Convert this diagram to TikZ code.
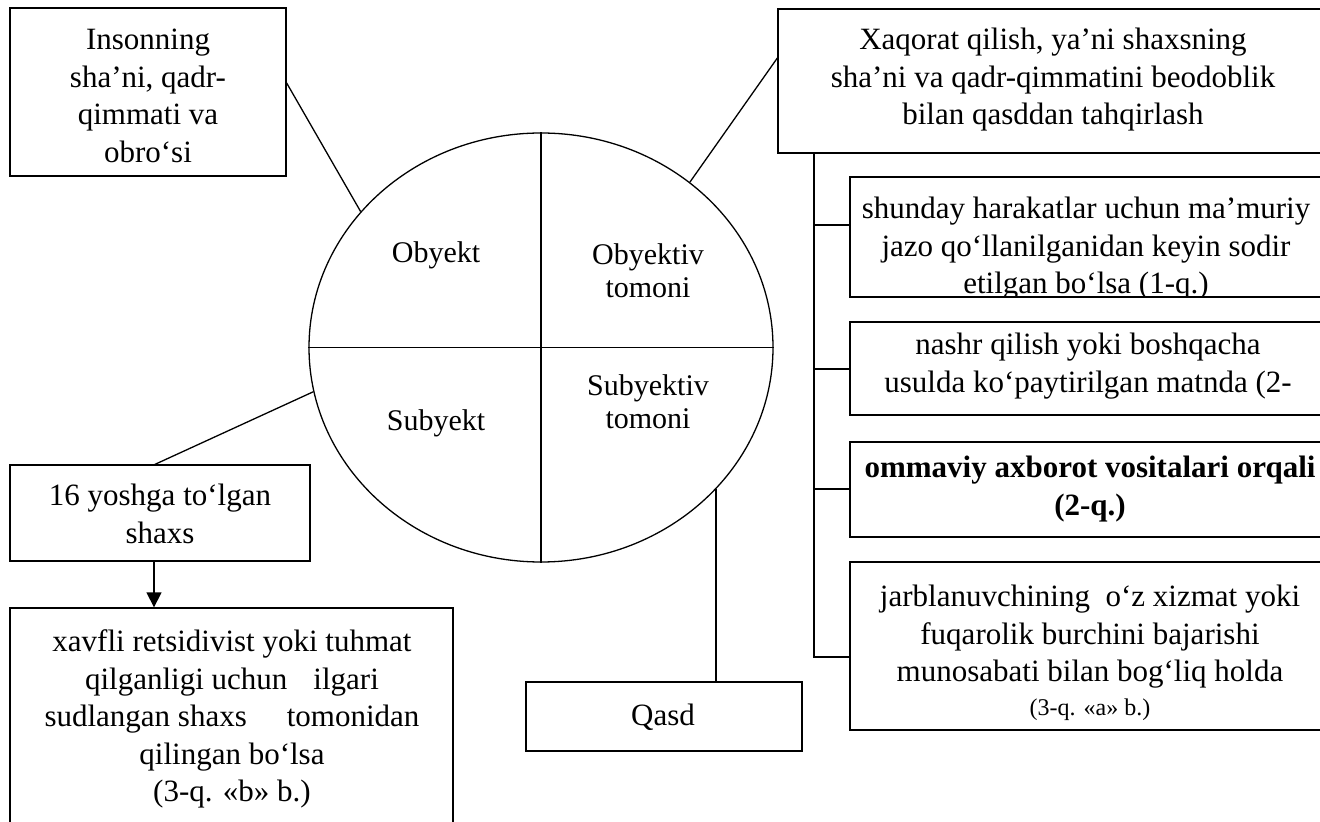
\documentclass[tikz,border=0pt]{standalone}
\usepackage{fontspec}
\setmainfont{Liberation Serif}
\usetikzlibrary{shapes.geometric,arrows.meta,calc}
\begin{document}
\begin{tikzpicture}[x=0.5pt,y=-0.5pt,
  box/.style={draw,line width=0.65pt,inner sep=0pt},
  txt/.style={align=center,inner sep=0pt,font=\fontsize{15.5}{18.75}\selectfont},
  lab/.style={align=center,inner sep=0pt,font=\fontsize{15}{16.5}\selectfont},
  conn/.style={line width=0.65pt},
  arr/.style={line width=0.65pt,-{Triangle[length=7.5pt,width=7.5pt]}},
]
\clip (0,0) rectangle (1320,822);
\fill[white] (0,0) rectangle (1320,822);

% top-left box
\node[box,minimum width=138pt,minimum height=84pt] (tl) at (148,92) {};
\node[txt] (tlt) at (148,96) {Insonning\\sha’ni, qadr-\\qimmati va\\obro‘si};

% top-right box
\node[box,minimum width=280pt,minimum height=72pt] (tr) at (1058,81) {};
\node[txt] (trt) at (1053,80) {Xaqorat qilish, ya’ni shaxsning\\sha’ni va qadr-qimmatini beodoblik\\bilan qasddan tahqirlash};

% right boxes
\node[box,minimum width=245pt,minimum height=60pt] (b1) at (1095,237) {};
\begin{scope}
\clip (b1.south west) rectangle (b1.north east);
\node[txt] (b1t) at (1086,249) {shunday harakatlar uchun ma’muriy\\jazo qo‘llanilganidan keyin sodir\\etilgan bo‘lsa (1-q.)};
\end{scope}

\node[box,minimum width=245pt,minimum height=46.5pt] (b2) at (1095,368.5) {};
\node[txt] (b2t) at (1088,366) {nashr qilish yoki boshqacha\\usulda ko‘paytirilgan matnda (2-};

\node[box,minimum width=245pt,minimum height=47.5pt] (b3) at (1095,489.5) {};
\node[txt,font=\fontsize{15.5}{18.75}\selectfont\bfseries] (b3t) at (1090,489) {ommaviy axborot vositalari orqali\\(2-q.)};

\node[box,minimum width=245pt,minimum height=84pt] (b4) at (1095,646) {};
\node[txt] (b4t) at (1090,653) {jarblanuvchining\hspace*{0.5em}o‘z xizmat yoki\\fuqarolik burchini bajarishi\\munosabati bilan bog‘liq holda\\[-2pt]{\fontsize{12}{14}\selectfont (3-q. «a» b.)}};

% ellipse
\node[draw,ellipse,line width=0.65pt,minimum width=232pt,minimum height=214.5pt,inner sep=0pt] (ell) at (541,347.5) {};
\draw[conn] (ell.north) -- (ell.south);
\draw[conn] (ell.west) -- (ell.east);
\node[lab] (l1) at (436,255) {Obyekt};
\node[lab] (l2) at (648,271) {Obyektiv\\tomoni};
\node[lab] (l3) at (436,423) {Subyekt};
\node[lab] (l4) at (648,402) {Subyektiv\\tomoni};

% bottom-left boxes
\node[box,minimum width=150pt,minimum height=48pt] (yo) at (160,513) {};
\node[txt] (yot) at (160,514) {16 yoshga to‘lgan\\shaxs};
\node[box,minimum width=221.5pt,minimum height=116pt] (big) at (231.5,724) {};
\node[txt] (bigt) at (232,719) {xavfli retsidivist yoki tuhmat\\qilganligi uchun\hspace*{0.84em}ilgari\\sudlangan shaxs\hspace*{1.29em}tomonidan\\qilingan bo‘lsa\\(3-q. «b» b.)};

% Qasd
\node[box,minimum width=138pt,minimum height=34.5pt] (qasd) at (664,716.5) {};
\node[txt] (qasdt) at (663,717) {Qasd};

% connectors
\draw[conn] ($(tl.east)+(0,-9)$) -- (ell.143.2);
\draw[conn] ($(tr.west)+(0,-23)$) -- (ell.48.4);
\draw[conn] (ell.191.1) -- ($(yo.north)+(-5,0)$);
\coordinate (a0) at ($(yo.south)+(-6,0)$);
\draw[arr] (a0) -- (a0 |- big.north);
\draw[conn] (ell.-39.3) -- (ell.-39.3 |- qasd.north);

\coordinate (c1) at (814,225);
\coordinate (c2) at (814,369);
\coordinate (c3) at (814,489);
\coordinate (c4) at (814,657);
\draw[conn] (tr.south -| c1) -- (c4) -- (c4 -| b4.west);
\draw[conn] (c1) -- (c1 -| b1.west);
\draw[conn] (c2) -- (c2 -| b2.west);
\draw[conn] (c3) -- (c3 -| b3.west);
\end{tikzpicture}
\end{document}
